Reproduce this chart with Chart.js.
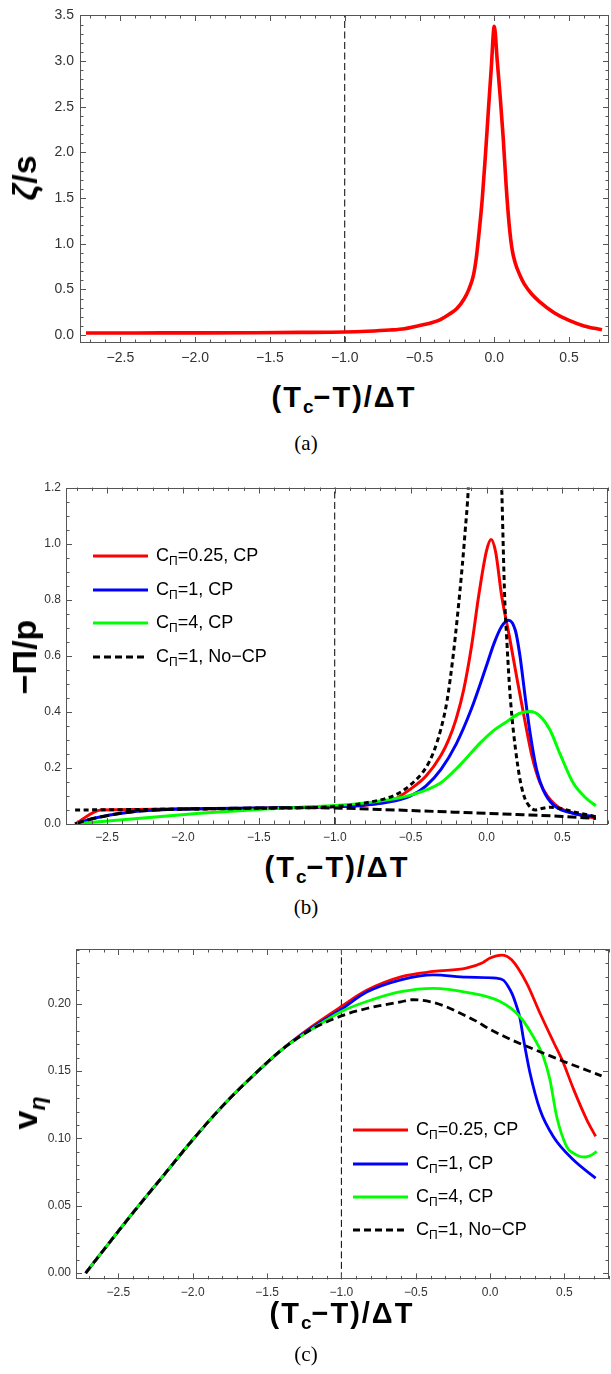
<!DOCTYPE html>
<html><head><meta charset="utf-8">
<script src="https://cdn.jsdelivr.net/npm/chart.js@4.4.1/dist/chart.umd.min.js"></script>
<style>
html,body{margin:0;padding:0;background:#fff;}
body{width:611px;height:1374px;position:relative;overflow:hidden;font-family:'Liberation Sans',Arial,sans-serif;color:#000;}
.wrap{position:absolute;left:0;width:611px;}
canvas{display:block;}
.ytitle{position:absolute;font-weight:bold;font-size:34px;line-height:34px;white-space:nowrap;transform:translate(-50%,-50%) rotate(-90deg);}
.xtitle{position:absolute;font-weight:bold;font-size:29px;line-height:29px;white-space:nowrap;transform:translateX(-50%);letter-spacing:2px;}
.sub{font-size:19px;position:relative;top:6px;letter-spacing:0;}
.ysub{font-size:23px;position:relative;top:8px;font-style:italic;}
.cap{position:absolute;font-family:'Liberation Serif','Times New Roman',serif;font-size:21px;line-height:21px;transform:translate(-50%,-50%);}
.leg{position:absolute;display:flex;align-items:center;transform:translateY(-50%);font-size:18px;line-height:18px;white-space:nowrap;}
.leg svg{margin-right:8px;display:block;}
.lsub{font-size:12px;position:relative;top:4px;}
</style></head><body>
<div class="wrap" style="top:0px"><canvas id="cA"></canvas></div>
<div class="wrap" style="top:470px"><canvas id="cB"></canvas></div>
<div class="wrap" style="top:930px"><canvas id="cC"></canvas></div>

<div class="ytitle" style="left:24px;top:178px"><i>ζ</i>/s</div>
<div class="ytitle" style="left:24px;top:657px">−Π/p</div>
<div class="ytitle" style="left:27px;top:1113px">v<span class="ysub">η</span></div>

<div class="xtitle" style="left:344px;top:383px">(T<span class="sub">c</span>−T)/ΔT</div>
<div class="xtitle" style="left:337px;top:853px">(T<span class="sub">c</span>−T)/ΔT</div>
<div class="xtitle" style="left:342px;top:1299px">(T<span class="sub">c</span>−T)/ΔT</div>

<div class="cap" style="left:306px;top:443px">(a)</div>
<div class="cap" style="left:306px;top:907px">(b)</div>
<div class="cap" style="left:306px;top:1354px">(c)</div>

<div id="legB"></div>
<div id="legC"></div>

<script>
// ---------- Panel (a): zeta/s ----------
const xTicksA = [-2.5, -2.0, -1.5, -1.0, -0.5, 0.0, 0.5];
const yTicksA = [0, 0.5, 1.0, 1.5, 2.0, 2.5, 3.0, 3.5];
const xZeta = [-2.73,-2.4,-2.0,-1.6,-1.3,-1.0,-0.85,-0.7,-0.6,-0.5,-0.42,-0.36,-0.3,-0.25,-0.2,-0.17,-0.14,-0.12,-0.1,-0.08,-0.06,-0.04,-0.02,0.0,0.02,0.04,0.06,0.08,0.1,0.12,0.14,0.17,0.2,0.25,0.3,0.4,0.5,0.6,0.72];
const zetaS = [0.022,0.023,0.024,0.026,0.029,0.034,0.042,0.055,0.07,0.105,0.135,0.17,0.23,0.29,0.4,0.5,0.65,0.85,1.15,1.5,1.95,2.45,2.93,3.38,3.0,2.6,2.15,1.62,1.2,0.93,0.79,0.66,0.56,0.45,0.37,0.245,0.16,0.1,0.058];
const criticalX = [-1.0];

// ---------- Panel (b): -Pi/p ----------
const xTicksB = [-2.5, -2.0, -1.5, -1.0, -0.5, 0.0, 0.5];
const yTicksB = [0, 0.2, 0.4, 0.6, 0.8, 1.0, 1.2];
const xRedB = [-2.71,-2.54,-2.3,-2.0,-1.5,-1.0,-0.8,-0.6,-0.5,-0.4,-0.3,-0.25,-0.2,-0.15,-0.1,-0.05,0.0,0.03,0.06,0.1,0.15,0.2,0.25,0.3,0.35,0.4,0.45,0.5,0.6,0.72];
const redB = [0,0.05,0.052,0.054,0.056,0.062,0.067,0.09,0.125,0.17,0.245,0.3,0.375,0.48,0.63,0.82,0.975,1.015,0.97,0.812,0.67,0.52,0.375,0.24,0.15,0.1,0.07,0.052,0.035,0.02];
const xBlueB = [-2.71,-2.63,-2.48,-2.33,-2.1,-1.8,-1.5,-1.0,-0.8,-0.6,-0.5,-0.4,-0.3,-0.2,-0.1,0.0,0.05,0.1,0.145,0.19,0.22,0.254,0.287,0.33,0.374,0.44,0.57,0.72];
const blueB = [0,0.014,0.032,0.044,0.052,0.055,0.057,0.062,0.068,0.083,0.1,0.135,0.195,0.285,0.41,0.565,0.645,0.705,0.727,0.69,0.6,0.455,0.324,0.193,0.121,0.068,0.038,0.026];
const xGreenB = [-2.71,-2.3,-1.89,-1.5,-1.0,-0.75,-0.5,-0.306,-0.175,-0.04,0.05,0.133,0.22,0.287,0.352,0.418,0.484,0.572,0.66,0.72];
const greenB = [0,0.02,0.038,0.052,0.066,0.078,0.103,0.145,0.21,0.29,0.335,0.365,0.395,0.401,0.385,0.335,0.25,0.145,0.09,0.065];
const xNoCPB = [-2.71,-2.63,-2.48,-2.33,-2.1,-1.8,-1.5,-1.2,-1.0,-0.6,-0.2,0.2,0.5,0.72];
const noCPB = [0,0.014,0.032,0.044,0.052,0.055,0.057,0.058,0.057,0.05,0.042,0.034,0.027,0.02];
const xDotB = [-2.71,-2.0,-1.5,-1.0,-0.8,-0.6,-0.5,-0.4,-0.35,-0.3,-0.26,-0.22,-0.19,-0.16,-0.14,-0.12,-0.1,-0.08,0.07,0.085,0.1,0.12,0.133,0.15,0.166,0.19,0.22,0.25,0.28,0.32,0.37,0.42,0.46,0.6,0.72];
const dotB = [0.05,0.053,0.056,0.062,0.075,0.104,0.14,0.2,0.255,0.34,0.44,0.6,0.75,0.92,1.05,1.2,1.5,2.0,2.0,1.5,1.2,0.8,0.66,0.5,0.39,0.27,0.16,0.095,0.065,0.05,0.056,0.06,0.058,0.04,0.026];

// ---------- Panel (c): v_eta ----------
const xTicksC = [-2.5, -2.0, -1.5, -1.0, -0.5, 0.0, 0.5];
const yTicksC = [0, 0.05, 0.10, 0.15, 0.20];
const xRedC = [-2.72,-2.6,-2.4,-2.2,-2.0,-1.8,-1.6,-1.4,-1.2,-1.0,-0.83,-0.6,-0.38,-0.16,-0.05,0.0,0.078,0.145,0.246,0.336,0.425,0.49,0.56,0.65,0.71];
const redC = [0,0.017,0.045,0.072,0.099,0.124,0.146,0.166,0.183,0.198,0.21,0.22,0.224,0.2265,0.2305,0.234,0.2362,0.2327,0.2154,0.193,0.172,0.157,0.137,0.114,0.1015];
const xBlueC = [-2.72,-2.6,-2.4,-2.2,-2.0,-1.8,-1.6,-1.4,-1.2,-1.0,-0.83,-0.6,-0.38,-0.157,0.044,0.09,0.122,0.15,0.179,0.2,0.223,0.268,0.336,0.425,0.56,0.71];
const blueC = [0,0.017,0.045,0.072,0.099,0.124,0.146,0.166,0.182,0.196,0.2087,0.2178,0.2215,0.2198,0.219,0.2175,0.2129,0.207,0.198,0.19,0.175,0.149,0.1213,0.1015,0.0841,0.0705];
const xGreenC = [-2.72,-2.6,-2.4,-2.2,-2.0,-1.8,-1.6,-1.4,-1.2,-1.0,-0.83,-0.6,-0.38,-0.157,0.067,0.2,0.29,0.358,0.403,0.448,0.515,0.56,0.605,0.64,0.672,0.717];
const greenC = [0,0.017,0.045,0.072,0.099,0.124,0.146,0.166,0.181,0.1943,0.2017,0.209,0.2115,0.2085,0.2017,0.1906,0.1757,0.1609,0.1435,0.1163,0.094,0.089,0.0866,0.0862,0.0871,0.0903];
const xNoCPC = [-2.72,-2.6,-2.4,-2.2,-2.0,-1.8,-1.6,-1.4,-1.2,-1.0,-0.83,-0.6,-0.52,-0.4,-0.3,-0.2,-0.1,0.0,0.1,0.2,0.3,0.4,0.5,0.6,0.75];
const noCPC = [0,0.017,0.045,0.072,0.099,0.124,0.146,0.166,0.181,0.191,0.1965,0.2015,0.203,0.2015,0.198,0.193,0.1875,0.181,0.1755,0.1705,0.166,0.1615,0.157,0.1528,0.1465];

const legendNames = ['=0.25, CP', '=1, CP', '=4, CP', '=1, No\u2212CP'];
const legendColors = ['#ff0000', '#0000ff', '#00ff00', '#000000'];
const legendDash = [null, null, null, '7,4'];

// ---------- helpers ----------
const FONT = "'Liberation Sans', Arial, sans-serif";
const fmt = d => v => (v < -1e-9 ? '\u2212' : '') + Math.abs(v).toFixed(d);
const pts = (xs, ys) => xs.map((x, i) => ({x: x, y: ys[i]}));

function framePlugin(o) {
  return {
    id: 'frame',
    afterDatasetsDraw(chart) {
      const ctx = chart.ctx, a = chart.chartArea;
      const sx = chart.scales.x, sy = chart.scales.y;
      const minor = (min, max, step, majors) => {
        const r = [];
        for (let k = Math.ceil(min / step - 1e-9); k * step <= max + 1e-9; k++) {
          const v = k * step;
          if (!majors.some(m => Math.abs(m - v) < step / 10)) r.push(v);
        }
        return r;
      };
      ctx.save();
      ctx.strokeStyle = '#555';
      ctx.lineWidth = 1;
      ctx.beginPath();
      const xs = [[o.xTicks, 6], [minor(o.xMin, o.xMax, o.xMinor, o.xTicks), 3.5]];
      for (const [vals, len] of xs) for (const v of vals) {
        const p = Math.round(sx.getPixelForValue(v)) + 0.5;
        ctx.moveTo(p, a.bottom); ctx.lineTo(p, a.bottom - len);
        ctx.moveTo(p, a.top); ctx.lineTo(p, a.top + len);
      }
      const ys = [[o.yTicks, 6], [minor(o.yMin, o.yMax, o.yMinor, o.yTicks), 3.5]];
      for (const [vals, len] of ys) for (const v of vals) {
        const p = Math.round(sy.getPixelForValue(v)) + 0.5;
        ctx.moveTo(a.left, p); ctx.lineTo(a.left + len, p);
        ctx.moveTo(a.right, p); ctx.lineTo(a.right - len, p);
      }
      ctx.stroke();
      ctx.strokeRect(Math.round(a.left) + 0.5, Math.round(a.top) + 0.5, Math.round(a.right - a.left) - 1, Math.round(a.bottom - a.top) - 1);
      ctx.restore();
    }
  };
}

function makeChart(id, o) {
  const W = 611, H = o.h;
  const cv = document.getElementById(id);
  cv.width = W; cv.height = H; cv.style.width = W + 'px'; cv.style.height = H + 'px';
  const marker = {
    data: pts([criticalX[0], criticalX[0]], [o.yMin, o.yMax]),
    borderColor: '#000', borderWidth: 1, borderDash: [7, 3.5], order: 10,
    cubicInterpolationMode: 'default', tension: 0
  };
  return new Chart(cv, {
    type: 'line',
    data: {datasets: o.datasets.concat([marker])},
    options: {
      responsive: false, animation: false, devicePixelRatio: 1,
      layout: {padding: {top: o.box.top, right: W - o.box.right, left: 0, bottom: 0}},
      plugins: {legend: {display: false}, tooltip: {enabled: false}},
      elements: {point: {radius: 0}, line: {cubicInterpolationMode: 'monotone', borderCapStyle: 'butt', borderJoinStyle: 'round'}},
      scales: {
        x: {
          type: 'linear', min: o.xMin, max: o.xMax,
          grid: {display: false, drawTicks: false}, border: {display: false},
          ticks: {font: {family: FONT, size: o.fs}, color: '#333', padding: o.xPad, maxRotation: 0, autoSkip: false, callback: fmt(1)},
          afterBuildTicks: s => { s.ticks = o.xTicks.map(v => ({value: v})); },
          afterFit: s => { s.height = H - o.box.bottom; }
        },
        y: {
          type: 'linear', min: o.yMin, max: o.yMax,
          grid: {display: false, drawTicks: false}, border: {display: false},
          ticks: {font: {family: FONT, size: o.fs}, color: '#333', padding: o.yPad, autoSkip: false, callback: fmt(o.yDec)},
          afterBuildTicks: s => { s.ticks = o.yTicks.map(v => ({value: v})); },
          afterFit: s => { s.width = o.box.left; }
        }
      }
    },
    plugins: [framePlugin(o)]
  });
}

// (a)
makeChart('cA', {
  h: 378, box: {left: 80, right: 609, top: 15, bottom: 343},
  xMin: -2.77, xMax: 0.767, yMin: -0.087, yMax: 3.505,
  xTicks: xTicksA, yTicks: yTicksA, xMinor: 0.1, yMinor: 0.1, yDec: 1,
  fs: 14, xPad: 7, yPad: 6,
  datasets: [
    {data: pts(xZeta, zetaS), borderColor: '#ff0000', borderWidth: 3.6, order: 1}
  ]
});

// (b)
makeChart('cB', {
  h: 380, box: {left: 66, right: 608, top: 17.5, bottom: 354},
  xMin: -2.77, xMax: 0.80, yMin: 0, yMax: 1.2,
  xTicks: xTicksB, yTicks: yTicksB, xMinor: 0.1, yMinor: 0.05, yDec: 1,
  fs: 12, xPad: 6, yPad: 5,
  datasets: [
    {data: pts(xRedB, redB), borderColor: '#ff0000', borderWidth: 3, order: 4},
    {data: pts(xBlueB, blueB), borderColor: '#0000ff', borderWidth: 3, order: 3},
    {data: pts(xGreenB, greenB), borderColor: '#00ff00', borderWidth: 3, order: 2},
    {data: pts(xNoCPB, noCPB), borderColor: '#000000', borderWidth: 3, borderDash: [9, 4], order: 1},
    {data: pts(xDotB, dotB), borderColor: '#000000', borderWidth: 3, borderDash: [5, 3.5], order: 0}
  ]
});

// (c)
makeChart('cC', {
  h: 380, box: {left: 76, right: 609, top: 19, bottom: 349.4},
  xMin: -2.785, xMax: 0.80, yMin: -0.0047, yMax: 0.2407,
  xTicks: xTicksC, yTicks: yTicksC, xMinor: 0.1, yMinor: 0.01, yDec: 2,
  fs: 12, xPad: 6, yPad: 5,
  datasets: [
    {data: pts(xRedC, redC), borderColor: '#ff0000', borderWidth: 2.8, order: 4},
    {data: pts(xBlueC, blueC), borderColor: '#0000ff', borderWidth: 2.8, order: 3},
    {data: pts(xGreenC, greenC), borderColor: '#00ff00', borderWidth: 2.8, order: 2},
    {data: pts(xNoCPC, noCPC), borderColor: '#000000', borderWidth: 2.8, borderDash: [8, 4.5], order: 1}
  ]
});

// legends (HTML, with subscript)
function buildLegend(el, left, rows, lineW) {
  const host = document.getElementById(el);
  legendNames.forEach((name, i) => {
    const d = document.createElement('div');
    d.className = 'leg';
    d.style.left = left + 'px';
    d.style.top = rows[i] + 'px';
    const dash = legendDash[i] ? ' stroke-dasharray="' + legendDash[i] + '"' : '';
    d.innerHTML = '<svg width="' + lineW + '" height="8"><line x1="0" y1="4" x2="' + lineW + '" y2="4" stroke="' + legendColors[i] + '" stroke-width="3"' + dash + '/></svg>' +
      '<span>C<span class="lsub">Π</span>' + name + '</span>';
    host.appendChild(d);
  });
}
buildLegend('legB', 93, [556, 589.5, 623, 657], 55);
buildLegend('legC', 353, [1130, 1163.5, 1197, 1230], 55);
</script>
</body></html>
